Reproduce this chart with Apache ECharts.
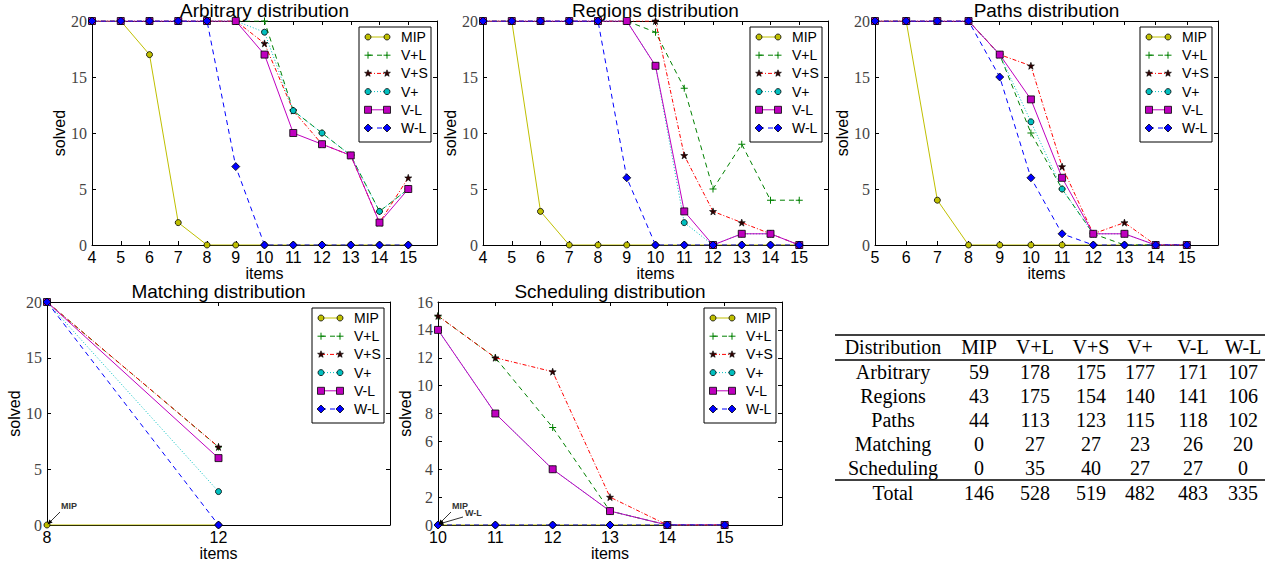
<!DOCTYPE html>
<html><head><meta charset="utf-8">
<script src="https://cdn.jsdelivr.net/npm/echarts@6/dist/echarts.min.js"></script>
<style>
html,body{margin:0;padding:0;background:#fff;}
#chart{position:absolute;left:0;top:0;width:1276px;height:565px;}
</style></head><body>
<div id="chart"></div>
<script>
// ---------------- data ----------------
const methods = ['MIP', 'V+L', 'V+S', 'V+', 'V-L', 'W-L'];

const arbItems = [4, 5, 6, 7, 8, 9, 10, 11, 12, 13, 14, 15];
const arbMIP = [20, 20, 17, 2, 0, 0, 0, 0, 0, 0, 0, 0];
const arbVpL = [20, 20, 20, 20, 20, 20, 20, 12, 10, 8, 3, 5];
const arbVpS = [20, 20, 20, 20, 20, 20, 18, 12, 9, 8, 2, 6];
const arbVp  = [20, 20, 20, 20, 20, 20, 19, 12, 10, 8, 3, 5];
const arbVmL = [20, 20, 20, 20, 20, 20, 17, 10, 9, 8, 2, 5];
const arbWmL = [20, 20, 20, 20, 20, 7, 0, 0, 0, 0, 0, 0];

const regItems = [4, 5, 6, 7, 8, 9, 10, 11, 12, 13, 14, 15];
const regMIP = [20, 20, 3, 0, 0, 0, 0, 0, 0, 0, 0, 0];
const regVpL = [20, 20, 20, 20, 20, 20, 19, 14, 5, 9, 4, 4];
const regVpS = [20, 20, 20, 20, 20, 20, 20, 8, 3, 2, 1, 0];
const regVp  = [20, 20, 20, 20, 20, 20, 16, 2, 0, 1, 1, 0];
const regVmL = [20, 20, 20, 20, 20, 20, 16, 3, 0, 1, 1, 0];
const regWmL = [20, 20, 20, 20, 20, 6, 0, 0, 0, 0, 0, 0];

const pathItems = [5, 6, 7, 8, 9, 10, 11, 12, 13, 14, 15];
const pathMIP = [20, 20, 4, 0, 0, 0, 0, 0, 0, 0, 0];
const pathVpL = [20, 20, 20, 20, 17, 10, 5, 1, 0, 0, 0];
const pathVpS = [20, 20, 20, 20, 17, 16, 7, 1, 2, 0, 0];
const pathVp  = [20, 20, 20, 20, 17, 11, 5, 1, 1, 0, 0];
const pathVmL = [20, 20, 20, 20, 17, 13, 6, 1, 1, 0, 0];
const pathWmL = [20, 20, 20, 20, 15, 6, 1, 0, 0, 0, 0];

const matchItems = [8, 12];
const matchMIP = [0, 0];
const matchVpL = [20, 7];
const matchVpS = [20, 7];
const matchVp  = [20, 3];
const matchVmL = [20, 6];
const matchWmL = [20, 0];

const schedItems = [10, 11, 12, 13, 14, 15];
const schedMIP = [0, 0, 0, 0, 0, 0];
const schedVpL = [15, 12, 7, 1, 0, 0];
const schedVpS = [15, 12, 11, 2, 0, 0];
const schedVp  = [14, 8, 4, 1, 0, 0];
const schedVmL = [14, 8, 4, 1, 0, 0];
const schedWmL = [0, 0, 0, 0, 0, 0];

const panelTitles = ['Arbitrary distribution', 'Regions distribution', 'Paths distribution',
                     'Matching distribution', 'Scheduling distribution'];
const xTickRanges = [[4, 16, 1], [4, 16, 1], [5, 16, 1], [8, 16, 4], [10, 16, 1]];
const yTickRanges = [[0, 20, 5], [0, 20, 5], [0, 20, 5], [0, 20, 5], [0, 16, 2]];

const annotationLabels = [
  { panel: 3, text: 'MIP', at: [8, 0] },
  { panel: 4, text: 'MIP', at: [10, 0] },
  { panel: 4, text: 'W-L', at: [10, 0] }
];

const tableHeader = ['Distribution', 'MIP', 'V+L', 'V+S', 'V+', 'V-L', 'W-L'];
const tableDistributions = ['Arbitrary', 'Regions', 'Paths', 'Matching', 'Scheduling'];
const tableMIP = [59, 43, 44, 0, 0];
const tableVpL = [178, 175, 113, 27, 35];
const tableVpS = [175, 154, 123, 27, 40];
const tableVp  = [177, 140, 115, 23, 27];
const tableVmL = [171, 141, 118, 26, 27];
const tableWmL = [107, 106, 102, 20, 0];
const tableTotalLabel = 'Total';
const tableTotals = [146, 528, 519, 482, 483, 335];

// ---------------- build ----------------
const panelItems = [arbItems, regItems, pathItems, matchItems, schedItems];
const panelValues = [
  [arbMIP, arbVpL, arbVpS, arbVp, arbVmL, arbWmL],
  [regMIP, regVpL, regVpS, regVp, regVmL, regWmL],
  [pathMIP, pathVpL, pathVpS, pathVp, pathVmL, pathWmL],
  [matchMIP, matchVpL, matchVpS, matchVp, matchVmL, matchWmL],
  [schedMIP, schedVpL, schedVpS, schedVp, schedVmL, schedWmL]
];
const tableCols = [tableMIP, tableVpL, tableVpS, tableVp, tableVmL, tableWmL];

const SANS = 'Liberation Sans, Arial, Helvetica, sans-serif';
const SERIF = 'Liberation Serif, Times New Roman, serif';

const grids = [
  { left: 92, top: 21, width: 345, height: 224 },
  { left: 483, top: 21, width: 345, height: 224 },
  { left: 875, top: 21, width: 343, height: 224 },
  { left: 47, top: 302, width: 343, height: 223 },
  { left: 438, top: 302, width: 344, height: 223 }
];

const STAR = 'path://M0,-10 L2.35,-3.24 L9.51,-3.09 L3.8,1.24 L5.88,8.09 L0,4 L-5.88,8.09 L-3.8,1.24 L-9.51,-3.09 L-2.35,-3.24 Z';
const PLUS = 'path://M-1.4,-10 L1.4,-10 L1.4,-1.4 L10,-1.4 L10,1.4 L1.4,1.4 L1.4,10 L-1.4,10 L-1.4,1.4 L-10,1.4 L-10,-1.4 L-1.4,-1.4 Z';

const styles = [
  { color: '#bfbf00', dash: 'solid', symbol: 'circle', kind: 'circle', size: 6, fill: '#bfbf00', border: 0.8 },
  { color: '#008000', dash: [5, 4], symbol: PLUS, kind: 'plus', size: 7, fill: '#008000', border: 0 },
  { color: '#ff0000', dash: [4, 2, 1, 2], symbol: STAR, kind: 'star', size: 7, fill: '#300000', border: 0.6 },
  { color: '#00bfbf', dash: [1, 2], symbol: 'circle', kind: 'circle', size: 6, fill: '#00bfbf', border: 0.8 },
  { color: '#bf00bf', dash: 'solid', symbol: 'rect', kind: 'rect', size: 7, fill: '#bf00bf', border: 0.8 },
  { color: '#0000ff', dash: [5, 4], symbol: 'diamond', kind: 'diamond', size: 8, fill: '#0000ff', border: 0.8 }
];

const xAxes = [], yAxes = [], series = [], titles = [];
grids.forEach((g, p) => {
  const [xmin, xmax, xint] = xTickRanges[p];
  const [ymin, ymax, yint] = yTickRanges[p];
  const tick = { show: true, inside: true, length: 4, lineStyle: { color: '#000', width: 1 } };
  const line = { show: true, onZero: false, lineStyle: { color: '#000', width: 1 } };
  xAxes.push({
    type: 'value', gridIndex: p, position: 'bottom', min: xmin, max: xmax, interval: xint,
    axisLine: line, axisTick: tick, splitLine: { show: false },
    axisLabel: { show: true, margin: 4, fontFamily: SANS, fontSize: 16, color: '#000',
      formatter: v => (v === xmax ? '' : String(v)) },
    name: 'items', nameLocation: 'middle', nameGap: 20,
    nameTextStyle: { fontFamily: SANS, fontSize: 16, color: '#000' }
  });
  xAxes.push({
    type: 'value', gridIndex: p, position: 'top', min: xmin, max: xmax, interval: xint,
    axisLine: line, axisTick: tick, splitLine: { show: false }, axisLabel: { show: false }
  });
  yAxes.push({
    type: 'value', gridIndex: p, position: 'left', min: ymin, max: ymax, interval: yint,
    axisLine: line, axisTick: tick, splitLine: { show: false },
    axisLabel: { show: true, margin: 5, fontFamily: SERIF, fontSize: 16, color: '#444' },
    name: 'solved', nameLocation: 'middle', nameGap: 22,
    nameTextStyle: { fontFamily: SANS, fontSize: 16, color: '#000' }
  });
  yAxes.push({
    type: 'value', gridIndex: p, position: 'right', min: ymin, max: ymax, interval: yint,
    axisLine: line, axisTick: tick, splitLine: { show: false }, axisLabel: { show: false }
  });
  titles.push({
    text: panelTitles[p], left: g.left + g.width / 2, top: g.top - 20, textAlign: 'center', padding: 0,
    textStyle: { fontFamily: SANS, fontSize: 19, fontWeight: 'normal', color: '#000' }
  });
  methods.forEach((m, k) => {
    const s = styles[k];
    const vals = panelValues[p][k];
    series.push({
      type: 'line', name: m, xAxisIndex: 2 * p, yAxisIndex: 2 * p,
      data: panelItems[p].map((x, i) => [x, vals[i]]),
      symbol: s.symbol, symbolSize: s.size, showSymbol: true, clip: true,
      lineStyle: { color: s.color, width: 1, type: s.dash },
      itemStyle: { color: s.fill, borderColor: s.kind === 'plus' ? s.fill : '#000', borderWidth: s.border },
      emphasis: { disabled: true }, animation: false, z: 2 + k
    });
  });
});

// legend drawing helpers
function symbolEls(kind, cx, cy, s) {
  const st = { fill: s.fill, stroke: '#000', lineWidth: 0.8 };
  if (kind === 'circle') return [{ type: 'circle', shape: { cx, cy, r: 3 }, style: st }];
  if (kind === 'rect') return [{ type: 'rect', shape: { x: cx - 3.5, y: cy - 3.5, width: 7, height: 7 }, style: st }];
  if (kind === 'diamond') return [{ type: 'polygon', shape: { points: [[cx, cy - 4], [cx + 4, cy], [cx, cy + 4], [cx - 4, cy]] }, style: st }];
  if (kind === 'plus') return [
    { type: 'line', shape: { x1: cx - 3.5, y1: cy, x2: cx + 3.5, y2: cy }, style: { stroke: s.fill, lineWidth: 1 } },
    { type: 'line', shape: { x1: cx, y1: cy - 3.5, x2: cx, y2: cy + 3.5 }, style: { stroke: s.fill, lineWidth: 1 } }];
  if (kind === 'star') {
    const pts = [];
    for (let i = 0; i < 10; i++) {
      const r = i % 2 === 0 ? 3.6 : 1.5;
      const a = -Math.PI / 2 + i * Math.PI / 5;
      pts.push([cx + r * Math.cos(a), cy + r * Math.sin(a)]);
    }
    return [{ type: 'polygon', shape: { points: pts }, style: { fill: s.fill, stroke: '#000', lineWidth: 0.6 } }];
  }
  return [];
}

const graphics = [];
grids.forEach((g, p) => {
  const bw = 72, bh = 115;
  const bx = g.left + g.width - 6 - bw, by = g.top + 6;
  graphics.push({ type: 'rect', shape: { x: bx, y: by, width: bw, height: bh },
    style: { fill: '#fff', stroke: '#000', lineWidth: 1 }, z: 50 });
  methods.forEach((m, k) => {
    const s = styles[k];
    const y = by + 10 + k * 18.2;
    const x1 = bx + 9, x2 = bx + 28;
    graphics.push({ type: 'line', shape: { x1, y1: y, x2, y2: y },
      style: { stroke: s.color, lineWidth: 1, lineDash: s.dash === 'solid' ? null : s.dash }, z: 51 });
    symbolEls(s.kind, x1, y, s).concat(symbolEls(s.kind, x2, y, s)).forEach(e => { e.z = 52; graphics.push(e); });
    graphics.push({ type: 'text', x: bx + 42, y: y, z: 52,
      style: { text: m, fontFamily: SANS, fontSize: 14, fill: '#000', verticalAlign: 'middle', align: 'left' } });
  });
});

// table
const colX = [893, 979, 1035, 1091, 1140, 1193, 1243];
const rowY = [347, 372, 396, 420, 444, 468, 493];
const ruleY = [335, 360, 480];
ruleY.forEach(y => graphics.push({ type: 'line', shape: { x1: 835, y1: y, x2: 1265, y2: y },
  style: { stroke: '#000', lineWidth: 1.3 } }));
function cell(txt, x, y) {
  graphics.push({ type: 'text', x, y, style: { text: String(txt), fontFamily: SERIF, fontSize: 20,
    fill: '#000', align: 'center', verticalAlign: 'middle' } });
}
tableHeader.forEach((h, c) => cell(h, colX[c], rowY[0]));
tableDistributions.forEach((d, r) => {
  cell(d, colX[0], rowY[r + 1]);
  tableCols.forEach((col, c) => cell(col[r], colX[c + 1], rowY[r + 1]));
});
cell(tableTotalLabel, colX[0], rowY[6]);
tableTotals.forEach((v, c) => cell(v, colX[c + 1], rowY[6]));

const chart = echarts.init(document.getElementById('chart'), null, { renderer: 'svg', width: 1276, height: 565 });
chart.setOption({
  animation: false,
  backgroundColor: '#fff',
  title: titles,
  grid: grids.map(g => Object.assign({ containLabel: false, show: false }, g)),
  xAxis: xAxes, yAxis: yAxes, series: series,
  graphic: { elements: graphics }
});

// annotations with arrows
const annOffsets = { 'MIP': [14, -19, 13, -13], 'W-L': [27, -12, 25, -8] };
const annEls = [];
annotationLabels.forEach(a => {
  const pt = chart.convertToPixel({ xAxisIndex: 2 * a.panel, yAxisIndex: 2 * a.panel }, a.at);
  const o = annOffsets[a.text];
  const sx = pt[0] + o[2], sy = pt[1] + o[3];
  annEls.push({ type: 'text', x: pt[0] + o[0], y: pt[1] + o[1], z: 60,
    style: { text: a.text, fontFamily: SANS, fontSize: 9, fontWeight: 'bold', fill: '#333', verticalAlign: 'middle', align: 'left' } });
  annEls.push({ type: 'line', shape: { x1: sx, y1: sy, x2: pt[0] + 1, y2: pt[1] - 1 }, z: 60,
    style: { stroke: '#000', lineWidth: 0.8 } });
  const ang = Math.atan2(pt[1] - sy, pt[0] - sx);
  const hx = pt[0] + 0.5, hy = pt[1] - 0.5, L = 5, W = 2.2;
  const bxp = hx - L * Math.cos(ang), byp = hy - L * Math.sin(ang);
  annEls.push({ type: 'polygon', z: 60, shape: { points: [[hx, hy],
    [bxp + W * Math.sin(ang), byp - W * Math.cos(ang)], [bxp - W * Math.sin(ang), byp + W * Math.cos(ang)]] },
    style: { fill: '#000' } });
});
chart.setOption({ graphic: { elements: graphics.concat(annEls) } });
</script>
</body></html>
